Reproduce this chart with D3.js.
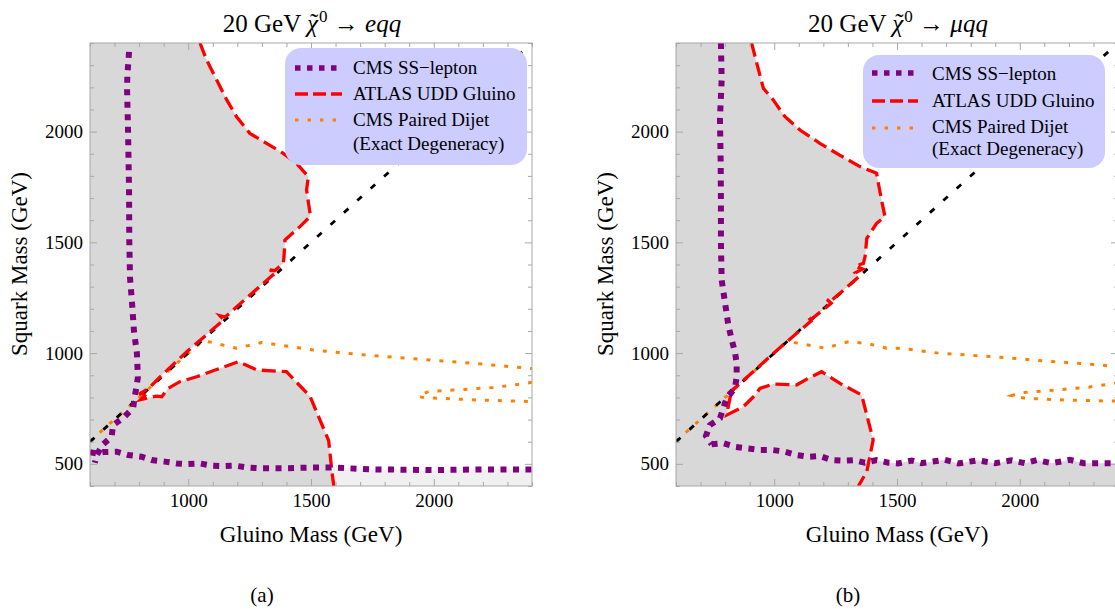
<!DOCTYPE html>
<html><head><meta charset="utf-8">
<script src="https://cdn.jsdelivr.net/npm/d3@7"></script>
<style>
html,body{margin:0;padding:0;background:#fff;}
svg{display:block;font-family:"Liberation Serif","Times New Roman",serif;}
</style></head>
<body>
<svg id="chart" width="1115" height="609"></svg>
<script>
// ---------- DATA (GeV) ----------
const gluinoTicks = [1000, 1500, 2000];
const squarkTicks = [500, 1000, 1500, 2000];
const panelTitles = ["eqq", "μqq"];
const panelCaptions = ["(a)", "(b)"];
const legendLabels = ["CMS SS\u2212lepton", "ATLAS UDD Gluino", "CMS Paired Dijet", "(Exact Degeneracy)"];
const diagonal = [[600, 600], [2400, 2400]];

// Panel (a): eqq
const ssLeptonA_vertical = [[759,2360],[752,2250],[751,2190],[755,2000],[759,1740],[760,1510],[763,1340],[771,1230],[779,1100],[791,1000],[795,890],[787,833],[780,790],[776,752],[735,707],[694,675],[688,623],[650,585],[628,540],[620,505]];
const ssLeptonA_horizontal = [[600,553],[625,548],[654,553],[709,555],[756,540],[810,532],[851,517],[905,510],[953,502],[994,499],[1048,502],[1095,492],[1143,490],[1190,492],[1238,484],[1292,480],[1394,480],[1489,483],[1591,483],[1754,475],[2000,472],[2200,475],[2400,475]];
const atlasA = [[1048,2400],[1075,2323],[1116,2233],[1157,2143],[1197,2067],[1251,1992],[1319,1947],[1387,1902],[1441,1857],[1489,1796],[1482,1736],[1496,1631],[1496,1616],[1455,1571],[1394,1511],[1390,1435],[1387,1405],[1352,1372],[1332,1376],[1356,1362],[1340,1348],[1200,1212],[1150,1162],[1130,1168],[1145,1150],[1000,1012],[900,908],[840,842],[800,815],[835,822],[806,790],[870,806],[892,803],[919,841],[966,871],[1034,893],[1129,931],[1204,961],[1279,924],[1400,916],[1496,805],[1572,605],[1586,457],[1593,400]];
const dijetA_main = [[600,602],[800,800],[1000,1000],[1060,1055],[1089,1050],[1197,1022],[1299,1048],[1400,1032],[1509,1014],[1726,991],[1944,972],[2161,954],[2400,930]];
const dijetA_loop = [[2400,868],[2357,860],[2242,845],[2079,833],[1978,826],[1937,806],[1960,798],[2025,796],[2188,788],[2400,781]];

// Panel (b): muqq
const ssLeptonB_vertical = [[783,2400],[786,2233],[779,2060],[782,1857],[783,1676],[783,1496],[786,1330],[793,1277],[813,1127],[827,1059],[840,1006],[847,954],[847,893],[840,841],[806,796],[779,706],[738,675],[722,626],[745,588]];
const ssLeptonB_horizontal = [[745,588],[793,593],[840,577],[888,570],[942,563],[990,563],[1044,555],[1091,540],[1138,532],[1187,535],[1234,517],[1280,514],[1327,517],[1369,505],[1417,517],[1465,505],[1505,502],[1560,515],[1600,503],[1694,518],[1750,502],[1829,516],[1900,503],[1967,516],[2020,503],[2069,517],[2130,503],[2204,518],[2260,503],[2400,503]];
const atlasB = [[908,2400],[929,2308],[956,2195],[996,2143],[1044,2067],[1105,2007],[1186,1947],[1268,1893],[1349,1842],[1417,1812],[1424,1767],[1437,1691],[1451,1616],[1417,1586],[1377,1518],[1370,1435],[1363,1405],[1330,1392],[1360,1380],[1330,1362],[1345,1345],[1232,1236],[1215,1242],[1232,1225],[1150,1152],[1135,1170],[1150,1145],[1000,1002],[850,852],[805,812],[822,808],[806,720],[874,758],[923,811],[942,841],[996,860],[1091,856],[1138,886],[1193,916],[1268,863],[1356,811],[1403,608],[1377,465],[1343,400]];
const dijetB_main = [[600,602],[800,800],[1000,1000],[1051,1051],[1105,1044],[1207,1022],[1255,1037],[1302,1051],[1377,1044],[1458,1022],[1512,1022],[1675,999],[1892,984],[2096,965],[2320,947],[2400,938]];
const dijetB_loop = [[2400,868],[2387,864],[2272,845],[2110,830],[2001,821],[1967,808],[2021,796],[2185,788],[2347,784],[2400,783]];

// ---------- CHART ----------
const svg = d3.select("#chart");
const colors = {ss:"#800080", atlas:"#ff0000", dijet:"#ff8000", gray:"#d8d8d8", light:"#f0f0f0", legend:"#ccccff", frame:"#a8a8a8"};

const panels = [
  {off:0, title:panelTitles[0], cap:panelCaptions[0], ssV:ssLeptonA_vertical, ssH:ssLeptonA_horizontal, atlas:atlasA, dj:dijetA_main, djl:dijetA_loop, stripColor:colors.light,
   legend:{x:285,y:48,w:242,h:117,sx:295,sw:47,tx:353,rows:[68,94,120],base:[74,100,126,150]}, capX:262},
  {off:586, title:panelTitles[1], cap:panelCaptions[1], ssV:ssLeptonB_vertical, ssH:ssLeptonB_horizontal, atlas:atlasB, dj:dijetB_main, djl:dijetB_loop, stripColor:colors.gray,
   legend:{x:863,y:55,w:242,h:113,sx:872,sw:46,tx:932,rows:[73,101,128],base:[80,107,133,155]}, capX:848}
];

panels.forEach((p, i) => {
  const x = d3.scaleLinear().domain([600, 2400]).range([90 + p.off, 532 + p.off]);
  const y = d3.scaleLinear().domain([400, 2400]).range([486, 43]);
  const line = d3.line().x(d => x(d[0])).y(d => y(d[1]));
  const g = svg.append("g");
  const clipId = "clip" + i;
  g.append("clipPath").attr("id", clipId).append("rect")
    .attr("x", x(600)).attr("y", y(2400)).attr("width", x(2400) - x(600)).attr("height", y(400) - y(2400));
  const plot = g.append("g").attr("clip-path", `url(#${clipId})`);

  const strip = p.ssH.concat([[2400, 400], [p.ssH[0][0], 400]]);
  plot.append("path").attr("d", line(strip) + "Z").attr("fill", p.stripColor).attr("stroke", "none");
  const region = p.atlas.concat([[600, 400], [600, 2400]]);
  plot.append("path").attr("d", line(region) + "Z").attr("fill", colors.gray).attr("stroke", "none");

  plot.append("path").attr("d", line(p.dj)).attr("fill", "none").attr("stroke", colors.dijet).attr("stroke-width", 3).attr("stroke-dasharray", "4,9");
  plot.append("path").attr("d", line(p.djl)).attr("fill", "none").attr("stroke", colors.dijet).attr("stroke-width", 3).attr("stroke-dasharray", "4,9");
  plot.append("path").attr("d", line(diagonal)).attr("fill", "none").attr("stroke", "#000").attr("stroke-width", 2.8).attr("stroke-dasharray", "6,12");
  plot.append("path").attr("d", line(p.atlas)).attr("fill", "none").attr("stroke", colors.atlas).attr("stroke-width", 3.3).attr("stroke-dasharray", "14,6");
  plot.append("path").attr("d", line(p.ssV)).attr("fill", "none").attr("stroke", colors.ss).attr("stroke-width", 6).attr("stroke-dasharray", "6,6.5");
  plot.append("path").attr("d", line(p.ssH)).attr("fill", "none").attr("stroke", colors.ss).attr("stroke-width", 6).attr("stroke-dasharray", "6,6.5");

  g.append("rect").attr("x", x(600)).attr("y", y(2400)).attr("width", x(2400) - x(600)).attr("height", y(400) - y(2400))
    .attr("fill", "none").attr("stroke", colors.frame).attr("stroke-width", 1);

  const minorX = d3.range(600, 2401, 100).filter(v => v % 500 !== 0);
  const majorX = d3.range(600, 2401, 100).filter(v => v % 500 === 0);
  const minorY = d3.range(400, 2401, 100).filter(v => v % 500 !== 0);
  const majorY = d3.range(400, 2401, 100).filter(v => v % 500 === 0);

  function styleAxis(sel) {
    sel.select(".domain").remove();
    sel.selectAll(".tick line").attr("stroke", colors.frame);
    sel.selectAll(".tick text").attr("fill", "#000").style("font-size", "19px").style("font-family", '"Liberation Serif",serif');
  }
  g.append("g").attr("transform", `translate(0,${y(400)})`).call(d3.axisBottom(x).tickValues(minorX).tickSize(-4).tickFormat("")).call(styleAxis);
  g.append("g").attr("transform", `translate(0,${y(400)})`).call(d3.axisBottom(x).tickValues(majorX).tickSize(-7).tickFormat("")).call(styleAxis);
  g.append("g").attr("transform", `translate(0,${y(400)})`).call(d3.axisBottom(x).tickValues(gluinoTicks).tickSize(0).tickPadding(8).tickFormat(d3.format("d"))).call(styleAxis);
  g.append("g").attr("transform", `translate(0,${y(2400)})`).call(d3.axisTop(x).tickValues(minorX).tickSize(-4).tickFormat("")).call(styleAxis);
  g.append("g").attr("transform", `translate(0,${y(2400)})`).call(d3.axisTop(x).tickValues(majorX).tickSize(-7).tickFormat("")).call(styleAxis);
  g.append("g").attr("transform", `translate(${x(600)},0)`).call(d3.axisLeft(y).tickValues(minorY).tickSize(-4).tickFormat("")).call(styleAxis);
  g.append("g").attr("transform", `translate(${x(600)},0)`).call(d3.axisLeft(y).tickValues(majorY).tickSize(-7).tickFormat("")).call(styleAxis);
  g.append("g").attr("transform", `translate(${x(600)},0)`).call(d3.axisLeft(y).tickValues(squarkTicks).tickSize(0).tickPadding(7).tickFormat(d3.format("d"))).call(styleAxis);
  g.append("g").attr("transform", `translate(${x(2400)},0)`).call(d3.axisRight(y).tickValues(minorY).tickSize(-4).tickFormat("")).call(styleAxis);
  g.append("g").attr("transform", `translate(${x(2400)},0)`).call(d3.axisRight(y).tickValues(majorY).tickSize(-7).tickFormat("")).call(styleAxis);

  const cx = (x(600) + x(2400)) / 2;
  g.append("text").attr("x", cx).attr("y", 542).attr("text-anchor", "middle").style("font-size", "23px").text("Gluino Mass (GeV)");
  g.append("text").attr("transform", `translate(${27 + p.off},264) rotate(-90)`).attr("text-anchor", "middle").style("font-size", "23px").text("Squark Mass (GeV)");

  // title: 20 GeV χ̃⁰ → eqq  (tilde placed as its own chunk inside the same text)
  const t = g.append("text").attr("x", cx + 1).attr("y", 32).attr("text-anchor", "middle").style("font-size", "25px");
  t.append("tspan").text("20 GeV ");
  t.append("tspan").style("font-style", "italic").text("\u03C7");
  t.append("tspan").attr("dy", -10).attr("dx", 1).style("font-size", "17px").text("0");
  t.append("tspan").attr("dy", 10).text(" \u2192 ");
  t.append("tspan").style("font-style", "italic").text(p.title);
  let chiBox = null;
  try { chiBox = t.node().getExtentOfChar(7); } catch (e) { chiBox = null; }
  if (chiBox) {
    t.append("tspan").attr("x", chiBox.x + chiBox.width / 2 + 1.5).attr("y", 31).text("\u02DC");
  }

  g.append("text").attr("x", p.capX).attr("y", 602).attr("text-anchor", "middle").style("font-size", "21px").text(p.cap);

  const L = p.legend;
  g.append("rect").attr("x", L.x).attr("y", L.y).attr("width", L.w).attr("height", L.h).attr("rx", 16).attr("ry", 16).attr("fill", colors.legend);
  const samples = [
    {c:colors.ss, w:5.5, d:"5.5,6.5"},
    {c:colors.atlas, w:3.3, d:"13,5"},
    {c:colors.dijet, w:3, d:"3.5,9"}
  ];
  samples.forEach((s, k) => {
    g.append("line").attr("x1", L.sx).attr("x2", L.sx + L.sw).attr("y1", L.rows[k]).attr("y2", L.rows[k])
      .attr("stroke", s.c).attr("stroke-width", s.w).attr("stroke-dasharray", s.d);
  });
  legendLabels.forEach((lab, k) => {
    g.append("text").attr("x", L.tx).attr("y", L.base[k]).style("font-size", "19px").text(lab);
  });
});
</script>
</body></html>
